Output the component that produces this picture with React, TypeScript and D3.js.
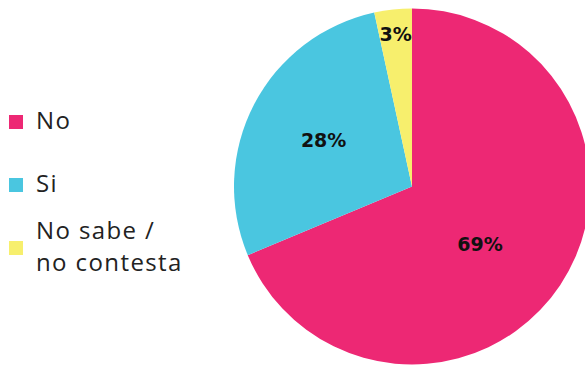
import React from "react";
import * as d3 from "d3";

const categories = ["No", "Si", "No sabe /\nno contesta"];
const values = [68.7, 27.9, 3.4];
const labels = ["69%", "28%", "3%"];
const colors = ["#ED2874", "#4AC6E0", "#F7EF6D"];

const W = 585;
const H = 365;

export default function App() {
  const cx = 412;
  const cy = 186.5;
  const R = 178;
  const pie = d3.pie<number>().sort(null).value((d) => d)(values);
  const arc = d3.arc<d3.PieArcDatum<number>>().innerRadius(0).outerRadius(R);
  const labelArc = (d: d3.PieArcDatum<number>) => {
    const frac = (d.endAngle - d.startAngle) / (2 * Math.PI);
    const r = frac < 0.05 ? R * 0.86 : frac > 0.5 ? R * 0.5 : R * 0.56;
    return d3.arc<d3.PieArcDatum<number>>().innerRadius(r).outerRadius(r).centroid(d);
  };
  const legendY = d3.scalePoint<number>().domain([0, 1, 2]).range([122, 248]);
  return (
    <svg width={W} height={H} style={{ position: "absolute", left: 0, top: 0, background: "#fff" }}>
      <g transform={`translate(${cx},${cy})`}>
        {pie.map((d, i) => (
          <path key={i} d={arc(d) || ""} fill={colors[i]} />
        ))}
        {pie.map((d, i) => {
          const [x, y] = labelArc(d);
          return (
            <text
              key={"l" + i}
              x={x - (i === 0 ? 6 : 0)}
              y={y + (i === 0 ? 8 : 0)}
              textAnchor="middle"
              dominantBaseline="central"
              fontFamily="'DejaVu Sans', sans-serif"
              fontWeight="bold"
              fontSize={19}
              fill="#111"
            >
              {labels[i]}
            </text>
          );
        })}
      </g>
      {categories.map((c, i) => {
        const y = legendY(i) as number;
        const lines = c.split("\n");
        const first = y + 7 - (lines.length - 1) * 16.3;
        return (
          <g key={"g" + i}>
            <rect x={9} y={y - 7} width={14} height={14} fill={colors[i]} />
            <text fontFamily="'Open Sans', sans-serif" fontWeight={400} fontSize={24} fill="#222" letterSpacing={1.4}>
              {lines.map((ln, j) => (
                <tspan key={j} x={36} y={first + j * 32.7}>
                  {ln}
                </tspan>
              ))}
            </text>
          </g>
        );
      })}
    </svg>
  );
}
